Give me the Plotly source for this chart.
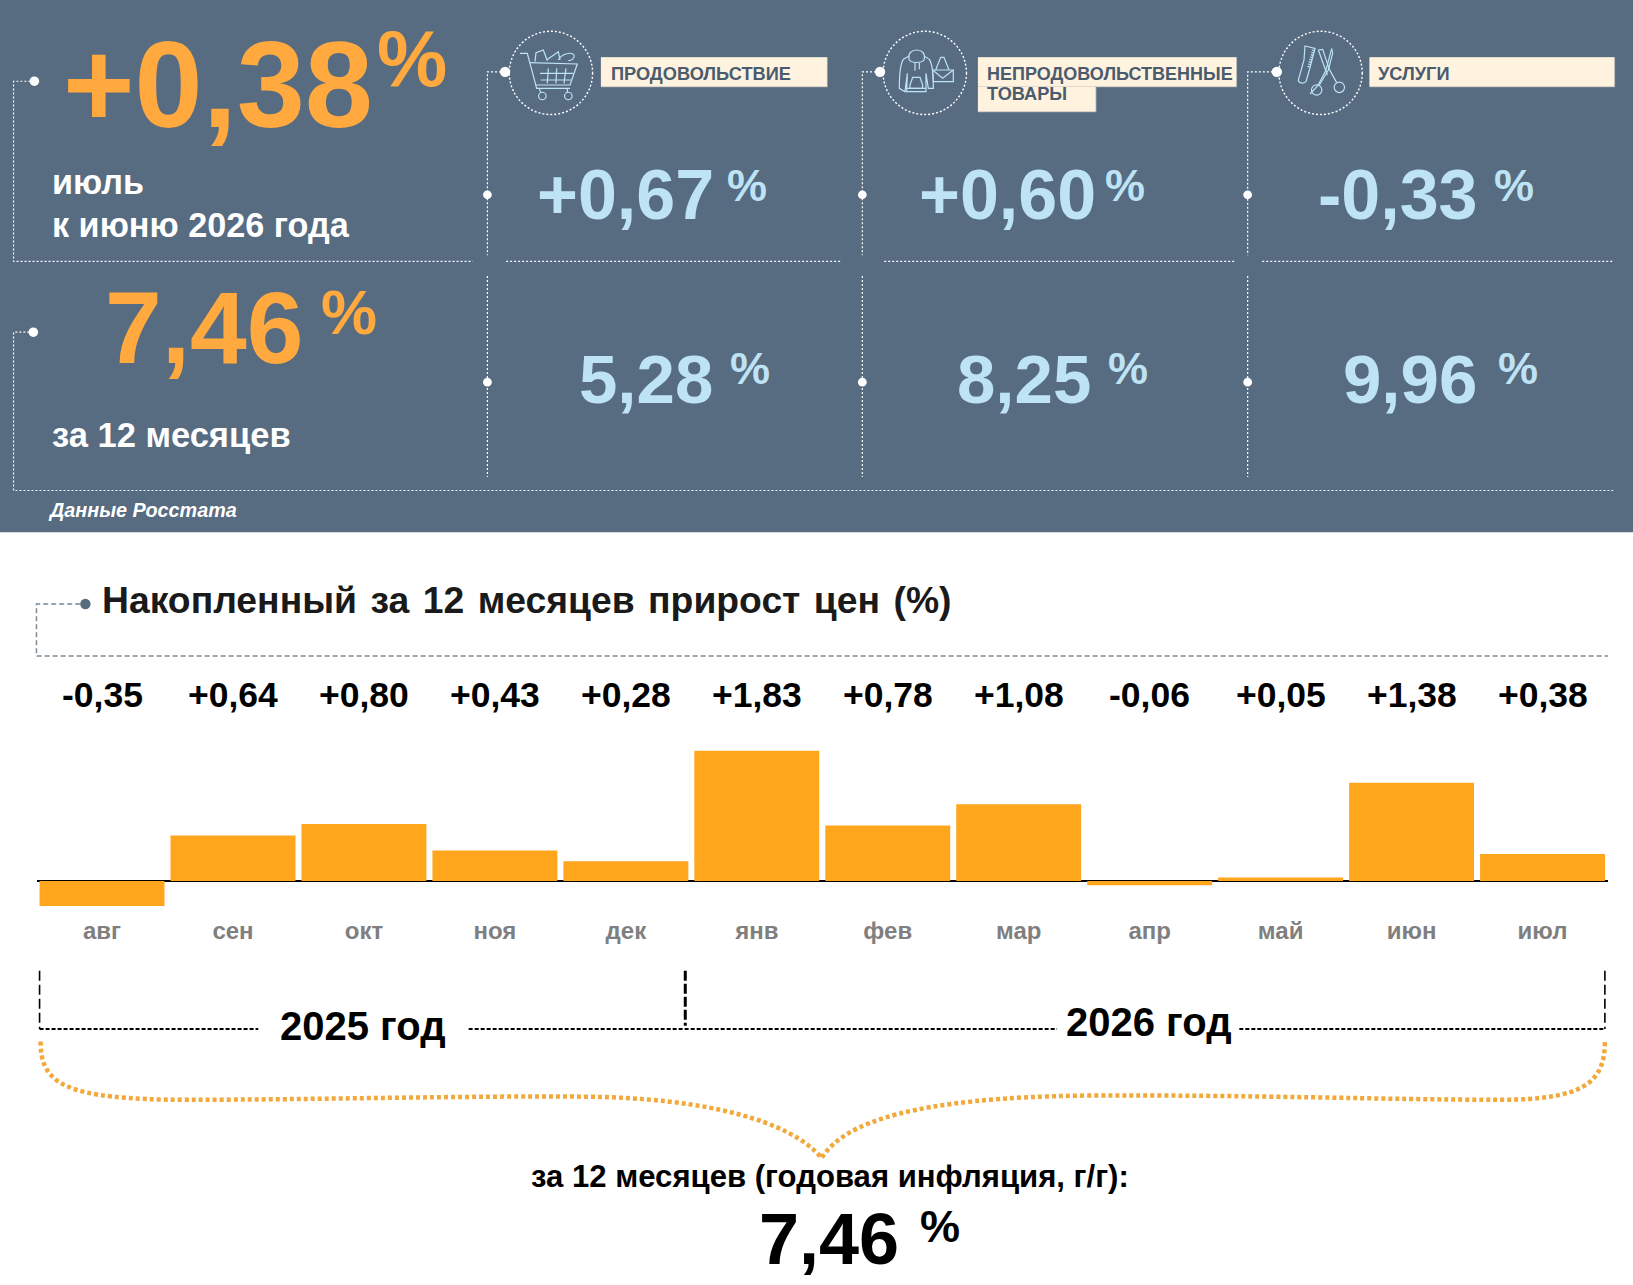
import re
import plotly.graph_objects as go

months = ["авг", "сен", "окт", "ноя", "дек", "янв", "фев", "мар", "апр", "май", "июн", "июл"]
monthly_change = [-0.35, 0.64, 0.80, 0.43, 0.28, 1.83, 0.78, 1.08, -0.06, 0.05, 1.38, 0.38]

headline_month = "+0,38"
headline_year = "7,46"
group_names = ["ПРОДОВОЛЬСТВИЕ", "НЕПРОДОВОЛЬСТВЕННЫЕ", "УСЛУГИ"]
group_month = ["+0,67", "+0,60", "-0,33"]
group_year = ["5,28", "8,25", "9,96"]

W, H = 1633, 1285
K = W / 1568
DH = H / K
FONT = "Liberation Sans"
PANEL = "#576B81"
ORANGE = "#FFA93F"
BLUE = "#BDE3F4"
CREAM = "#FFF2DF"
LABEL = "#4A5B6E"
BAR = "#FFA61C"

X = lambda x: x / 1568
Y = lambda y: 1 - y / DH

shapes, notes = [], []


def path_of(d, ox=0.0, oy=0.0, scale=1.0):
    toks = re.findall(r"[A-Za-z]|-?\d+\.?\d*", d)
    out, i = [], 0
    while i < len(toks):
        t = toks[i]
        if t.isalpha():
            out.append(t)
            i += 1
        else:
            x = ox + float(t) * scale
            y = oy + float(toks[i + 1]) * scale
            out.append(f"{X(x):.5f},{Y(y):.5f}")
            i += 2
    return " ".join(out)


def line(d, color="white", width=1.2, dash="2px,2px", **kw):
    shapes.append(dict(type="path", xref="paper", yref="paper", path=path_of(d, **kw),
                       line=dict(color=color, width=width, dash=dash)))


def rect(x0, y0, x1, y1, fill):
    shapes.append(dict(type="rect", xref="paper", yref="paper", x0=X(x0), x1=X(x1), y0=Y(y0), y1=Y(y1),
                       fillcolor=fill, line=dict(width=0)))


def circle(cx, cy, r, fill=None, color=None, width=0, dash="solid"):
    shapes.append(dict(type="circle", xref="paper", yref="paper",
                       x0=X(cx - r), x1=X(cx + r), y0=Y(cy - r), y1=Y(cy + r),
                       fillcolor=fill if fill else "rgba(0,0,0,0)",
                       line=dict(color=color or "rgba(0,0,0,0)", width=width, dash=dash)))


def text(s, x, y, size, color, anchor="left", bold=True, italic=False):
    t = f"<b>{s}</b>" if bold else s
    if italic:
        t = f"<i>{t}</i>"
    notes.append(dict(text=t, x=X(x), y=Y(y), xref="paper", yref="paper", showarrow=False,
                      xanchor=anchor, yanchor="middle", borderpad=0,
                      font=dict(family=FONT, size=size, color=color)))


# panel
rect(0, 0, 1568, 511, PANEL)

# dotted frame
line("M 33 78 L 13 78 L 13 251 L 454 251")
line("M 32 319 L 13 319 L 13 471 L 1549 471")
line("M 486 251 L 808 251")
line("M 849 251 L 1186 251")
line("M 1212 251 L 1549 251")
for cx, stub in zip((468, 828, 1198), (485, 845, 1226)):
    line(f"M {stub} 69 L {cx} 69 L {cx} 245")
    line(f"M {cx} 265 L {cx} 458")
    circle(stub, 69, 5, fill="white")
    circle(cx, 187, 4.2, fill="white")
    circle(cx, 367, 4.2, fill="white")
circle(33, 78, 4.6, fill="white")
circle(32, 319, 4.6, fill="white")

for cx in (529, 888, 1268):
    circle(cx, 70, 40, color="white", width=1.4, dash="2px,2px")

# icons, drawn in their own little grids
IC = dict(color=BLUE, width=1.2, dash="solid", scale=1 / (3 * K))
ox = 490 / K
oy = 20 / K
for d in [
    "M 90 100 L 112 100 L 140 205 L 240 205",
    "M 118 128 L 262 132 L 240 195 L 135 195",
    "M 150 160 L 250 160 M 152 180 L 244 180 M 175 145 L 172 190 M 200 145 L 198 190 M 228 145 L 222 190",
    "M 148 205 L 152 218 M 232 205 L 232 218",
    "M 135 125 L 138 98 L 160 90 L 172 122 M 170 120 L 205 95 L 210 120",
    "M 205 120 C 215 100 245 95 252 105 C 255 115 245 122 235 122",
]:
    line(d, ox=ox, oy=oy, **IC)
circle((490 + 157 / 3) / K, (20 + 228 / 3) / K, 3.6, color=BLUE, width=1.2)
circle((490 + 235 / 3) / K, (20 + 228 / 3) / K, 3.6, color=BLUE, width=1.2)

ox = 870 / K
for d in [
    "M 118 120 C 112 100 125 90 140 90 C 155 90 168 100 162 120",
    "M 118 120 C 125 130 155 130 162 120",
    "M 118 108 L 100 118 C 92 130 88 160 88 205 L 105 215 L 112 160 L 110 215 L 168 215 L 168 160 L 175 205 L 190 205 C 190 160 186 130 178 118 L 162 108",
    "M 120 195 L 128 172 L 150 172 L 158 195 L 158 205 L 120 205 Z",
    "M 135 128 L 135 152 M 148 128 L 148 148 M 110 205 L 168 205",
    "M 188 150 L 250 150 L 250 185 L 190 185 Z",
    "M 188 150 L 218 175 L 250 150",
    "M 197 150 L 212 112 L 222 112 L 237 150",
]:
    line(d, ox=ox, oy=oy, **IC)

ox = 1270 / K
for d in [
    "M 105 78 L 135 85 L 118 150 L 108 185 C 100 192 85 190 85 180 L 102 120 Z",
    "M 126 90 L 134 92 M 124 97 L 132 99 M 122 104 L 130 106 M 120 111 L 128 113 M 118 118 L 126 120 M 116 125 L 124 127 M 114 132 L 122 134 M 112 139 L 120 141",
    "M 145 90 L 158 88 L 178 148 L 200 188",
    "M 145 90 L 172 165",
    "M 185 86 L 188 100 L 175 150 L 148 195",
    "M 185 86 L 168 150 L 143 198 L 120 222",
]:
    line(d, ox=ox, oy=oy, **IC)
circle((1270 + 208 / 3) / K, (20 + 202 / 3) / K, 5, color=BLUE, width=1.2)
circle((1270 + 140 / 3) / K, (20 + 210 / 3) / K, 5, color=BLUE, width=1.2)

# cream tags
for x0, y0, x1, y1 in [(577, 55, 794, 83), (939, 55, 1187, 83), (939, 83, 1052, 107), (1315, 55, 1550, 83)]:
    rect(x0, y0, x1 + 0.8, y1 + 0.8, "#AEB0B0")
    rect(x0, y0, x1, y1, CREAM)
text(group_names[0], 586, 71, 18.2, LABEL)
text(group_names[1], 947, 71, 18, LABEL)
text("ТОВАРЫ", 947, 90, 18.2, LABEL)
text(group_names[2], 1322, 71, 18.2, LABEL)

# headline texts
text(headline_month, 60, 81, 122.5, ORANGE)
text("%", 361, 56, 79, ORANGE)
text("июль", 49, 175, 34.2, "white")
text("к июню 2026 года", 49, 216, 34.2, "white")
text(headline_year, 100, 315, 102, ORANGE)
text("%", 307, 300, 63, ORANGE)
text("за 12 месяцев", 49, 418, 34.5, "white")
text("Данные Росстата", 45, 490, 19.8, "white", italic=True)

for s, x in zip(group_month, (515, 881, 1265)):
    text(s, x, 187, 70, BLUE)
for x in (697, 1060, 1434):
    text("%", x, 178.5, 45, BLUE)
for s, x in zip(group_year, (555, 918, 1289)):
    text(s, x, 364, 69, BLUE)
for x in (700, 1063, 1437):
    text("%", x, 353.5, 45, BLUE)

# lower header
line("M 77 580 L 35 580 L 35 630 L 1544 630", color="#7D8A98", width=1.5, dash="5px,3px")
circle(82, 580, 5, fill=PANEL)
text("Накопленный\u200a за\u200a 12\u200a месяцев\u200a прирост\u200a цен\u200a (%)", 97, 576, 37.3, "#1A1A1A")

# value labels above the bars
labels = [f"{v:+.2f}".replace(".", ",") for v in monthly_change]
for m, lab in zip(months, labels):
    notes.append(dict(text=f"<b>{lab}</b>", x=m, xref="x", y=Y(667.5), yref="paper", showarrow=False,
                      xanchor="center", yanchor="middle",
                      font=dict(family=FONT, size=35.5, color="black")))

# year brackets
line("M 38 932 L 38 988", color="black", width=1.6, dash="10px,4px")
line("M 1541 932 L 1541 988", color="black", width=1.6, dash="10px,4px")
line("M 658 932 L 658 985", color="black", width=3, dash="10px,3px")
line("M 38 988 L 248 988 M 450 988 L 1015 988 M 1190 988 L 1541 988", color="black", width=2, dash="4px,2px")
text("2025 год", 268, 985, 40, "black")
text("2026 год", 1023, 981, 40, "black")

line("M 39 1000 C 39 1040 60 1056 180 1056 C 300 1056 450 1052 560 1053 C 680 1054 760 1077 789 1112 "
     "C 810 1077 880 1054 1040 1052 C 1200 1051 1330 1056 1440 1056 C 1520 1056 1541 1040 1541 1000",
     color="#F2A93B", width=4.5, dash="4px,3px")

text("за 12 месяцев (годовая инфляция, г/г):", 797, 1130, 31.1, "black", anchor="center")
text(headline_year, 728, 1190, 72, "black")
text("%", 882, 1178, 45, "black")

fig = go.Figure(go.Bar(x=months, y=monthly_change, marker=dict(color=BAR, line=dict(width=0)),
                       hoverinfo="skip"))
fig.update_layout(
    width=W, height=H, margin=dict(l=0, r=0, t=0, b=0, pad=0),
    paper_bgcolor="white", plot_bgcolor="rgba(0,0,0,0)", showlegend=False, bargap=0.046,
    shapes=shapes, annotations=notes,
    font=dict(family=FONT),
    xaxis=dict(type="category", categoryorder="array", categoryarray=months, range=[-0.5, 11.5],
               domain=[X(35.1), X(1544)], showgrid=False, showline=False, zeroline=False, ticks="",
               tickfont=dict(family=FONT, size=24, color="#7F7F7F"), automargin=False,
               tickmode="array", tickvals=months, ticktext=[f"<b>{m}</b>" for m in months]),
    yaxis=dict(range=[-0.468, 2.135], domain=[Y(878), Y(700)], showgrid=False, showticklabels=False,
               zeroline=True, zerolinecolor="black", zerolinewidth=2, showline=False, ticks=""),
)
fig.write_html("out.html", config={"displayModeBar": False},
               post_script="document.body.style.margin='0';document.documentElement.style.overflow='hidden';")
